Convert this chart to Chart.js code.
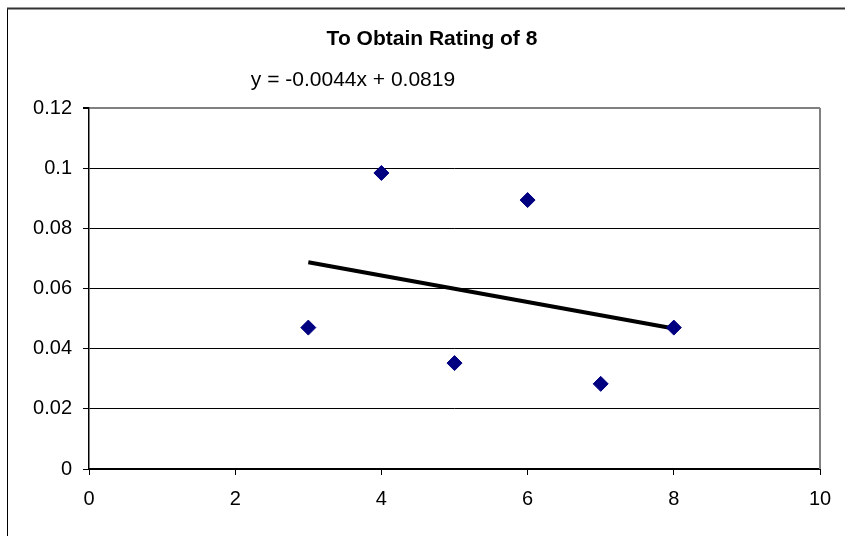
<!DOCTYPE html>
<html>
<head>
<meta charset="utf-8">
<title>To Obtain Rating of 8</title>
<script src="https://cdn.jsdelivr.net/npm/chart.js@4"></script>
<style>
  html, body { margin: 0; padding: 0; background: #fff; }
  canvas { display: block; }
</style>
</head>
<body>
<canvas id="rating" width="845" height="536"></canvas>
<script>
// ratings and the measured share at each rating
const ratingX = [3, 4, 5, 6, 7, 8];
const shareY = [0.047, 0.0984, 0.0352, 0.0894, 0.0283, 0.047];

// linear trendline (as printed on the chart)
const trendSlope = -0.0044;
const trendIntercept = 0.0819;
const trendFrom = 3;
const trendTo = 8;

const xTickValues = [0, 2, 4, 6, 8, 10];
const xTickLabels = ["0", "2", "4", "6", "8", "10"];
const yTickValues = [0, 0.02, 0.04, 0.06, 0.08, 0.1, 0.12];
const yTickLabels = ["0", "0.02", "0.04", "0.06", "0.08", "0.1", "0.12"];

const chartTitle = "To Obtain Rating of 8";
const trendLabel = "y = -0.0044x + 0.0819";

const FONT = "'Liberation Sans', Arial, sans-serif";

const points = ratingX.map((x, i) => ({ x: x, y: shareY[i] }));
const trend = [trendFrom, trendTo].map(x => ({ x: x, y: trendSlope * x + trendIntercept }));

// frame, plot border and the texts above the plot
const decorations = {
    id: "decorations",
    beforeDraw(chart) {
        const ctx = chart.ctx;
        ctx.save();
        ctx.fillStyle = "#fff";
        ctx.fillRect(0, 0, chart.width, chart.height);
        ctx.strokeStyle = "#000";
        ctx.lineWidth = 1;
        ctx.beginPath();
        ctx.moveTo(7.5, 8);
        ctx.lineTo(7.5, chart.height);
        ctx.stroke();
        ctx.strokeStyle = "#333";
        ctx.lineWidth = 2;
        ctx.beginPath();
        ctx.moveTo(7, 8.5);
        ctx.lineTo(chart.width, 8.5);
        ctx.stroke();
        ctx.restore();
    },
    beforeDatasetsDraw(chart) {
        const ctx = chart.ctx;
        const area = chart.chartArea;
        ctx.save();
        ctx.strokeStyle = "#808080";
        ctx.lineWidth = 2;
        ctx.beginPath();
        ctx.moveTo(area.right, area.top);
        ctx.lineTo(area.right, area.bottom);
        ctx.stroke();
        ctx.restore();
    },
    afterDraw(chart) {
        const ctx = chart.ctx;
        ctx.save();
        ctx.fillStyle = "#000";
        ctx.textAlign = "center";
        ctx.textBaseline = "alphabetic";
        ctx.font = "bold 21px " + FONT;
        ctx.fillText(chartTitle, 432, 45);
        ctx.font = "21px " + FONT;
        ctx.fillText(trendLabel, 353, 86);
        ctx.restore();
    }
};

new Chart(document.getElementById("rating"), {
    type: "scatter",
    data: {
        datasets: [{
            label: "Share",
            data: points,
            pointStyle: "rectRot",
            pointRadius: 7.5,
            pointBackgroundColor: "#000080",
            pointBorderColor: "#000080",
            pointBorderWidth: 1,
            showLine: false
        }, {
            label: "Linear trend",
            data: trend,
            showLine: true,
            borderColor: "#000",
            borderWidth: 4,
            pointRadius: 0,
            borderCapStyle: "butt"
        }]
    },
    options: {
        responsive: false,
        animation: false,
        layout: { padding: { top: 108, right: 25, left: 0, bottom: 0 } },
        plugins: {
            legend: { display: false },
            tooltip: { enabled: false },
            title: { display: false }
        },
        scales: {
            x: {
                type: "linear",
                min: 0,
                max: 10,
                afterBuildTicks: scale => { scale.ticks = xTickValues.map(v => ({ value: v })); },
                afterFit: scale => { scale.height = 67; },
                grid: {
                    drawOnChartArea: false,
                    drawTicks: true,
                    tickLength: 6,
                    tickColor: "#000"
                },
                border: { color: "#000", width: 2 },
                ticks: {
                    padding: 12,
                    color: "#000",
                    font: { family: FONT, size: 20 },
                    maxRotation: 0,
                    callback: (v, i) => xTickLabels[i]
                }
            },
            y: {
                type: "linear",
                min: 0,
                max: 0.12,
                afterBuildTicks: scale => { scale.ticks = yTickValues.map(v => ({ value: v })); },
                afterFit: scale => { scale.width = 89; },
                grid: {
                    color: c => (c.tick && c.tick.value === 0.12 ? "#808080" : "#000"),
                    lineWidth: c => (c.tick && c.tick.value === 0.12 ? 2 : 1),
                    tickLength: 6,
                    tickColor: "#000"
                },
                border: { color: "#000", width: 1.5 },
                ticks: {
                    padding: 11,
                    color: "#000",
                    font: { family: FONT, size: 20 },
                    callback: (v, i) => yTickLabels[i]
                }
            }
        }
    },
    plugins: [decorations]
});
</script>
</body>
</html>
